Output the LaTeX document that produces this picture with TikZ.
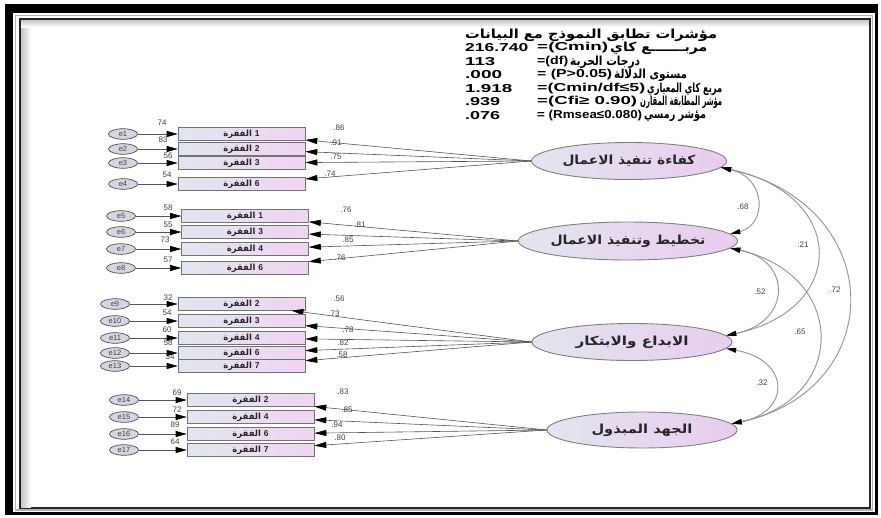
\documentclass[tikz,border=0pt]{standalone}
\usepackage{fontspec}
\usepackage{graphicx}
\setmainfont{Liberation Sans}
\newfontfamily\arabicfont[Script=Arabic]{DejaVu Sans}
\TeXXeTstate=1
\usetikzlibrary{shapes.geometric,arrows.meta}
\newcommand\artxt[1]{{\arabicfont\beginR #1\endR}}
\newcommand\fitw[2]{\resizebox{#1}{\height}{#2}}
\newcommand\itemtxt[1]{\hbox{\artxt{الفقرة}}\hspace{0.35em}\hbox{#1}}
\definecolor{boxL}{HTML}{E1E6EE}
\definecolor{boxR}{HTML}{F0D4F2}
\definecolor{latL}{HTML}{E2E5EE}
\definecolor{latR}{HTML}{E9CCEF}
\definecolor{errF}{HTML}{D6D6E2}
\definecolor{lineG}{HTML}{555555}
\begin{document}
\begin{tikzpicture}[x=1pt,y=-1pt,
  errnode/.style={ellipse, draw=black!70, line width=0.7pt, fill=errF, minimum width=29pt, minimum height=10.5pt, inner sep=0pt, font=\fontsize{7.5}{7.5}\selectfont, text=black!75},
  item/.style={rectangle, draw=black!55, line width=0.6pt, left color=boxL, right color=boxR, minimum width=127pt, minimum height=12.5pt, inner sep=0pt, font=\bfseries\fontsize{8.5}{9}\selectfont, text=black!85},
  latent/.style={ellipse, draw=black!50, line width=0.9pt, left color=latL, right color=latR, minimum width=195pt, minimum height=37pt, inner sep=0pt, font=\bfseries\fontsize{12.5}{12.5}\selectfont, text=black!85},
  etip/.style={draw=lineG, line width=0.6pt, -{Triangle[length=11pt,width=6pt,color=black]}},
  ltip/.style={draw=lineG, line width=0.6pt, -{Triangle[length=12pt,width=6pt,color=black]}},
  ctip/.style={draw=gray!85, line width=0.9pt, {Triangle[length=10pt,width=5pt,color=black]}-{Triangle[length=10pt,width=5pt,color=black]}},
  lab/.style={font=\fontsize{8}{8}\selectfont, text=black!75, inner sep=0.5pt},
  stat/.style={anchor=west, inner sep=0pt, font=\bfseries\fontsize{11.5}{12}\selectfont},
  astat/.style={anchor=west, inner sep=0pt, font=\bfseries\fontsize{12.5}{12}\selectfont}]
\useasboundingbox (0,0) rectangle (881,517);
% frame
\fill[white] (0,0) rectangle (881,517);
\fill[black] (5,4) rectangle (878,515);
\fill[white] (13,13) rectangle (875,512);
\draw[gray!60, line width=1.2pt] (15.5,15.5) rectangle (872.5,510);
\draw[black!85, line width=2pt] (20,19) rectangle (869.5,508);
\shade[left color=gray!45, right color=white] (21,20) rectangle (31,507);
\shade[top color=gray!45, bottom color=white] (21,20) rectangle (868.5,27);
% statistics block
\node[astat] (s0) at (465,35) {\fitw{252pt}{\artxt{مؤشرات تطابق النموذج مع البيانات}}};
\node[stat] (n1) at (465,48) {\fitw{63pt}{216.740}};
\node[stat] (q1) at (537,48) {\fitw{71pt}{=(Cmin)}};
\node[astat] (a1) at (610,48) {\fitw{97pt}{\artxt{مربـــــــع كاي}}};
\node[stat] (n2) at (465,62) {\fitw{30pt}{113}};
\node[stat] (q2) at (537,62) {\fitw{31pt}{=(df)}};
\node[astat] (a2) at (570,62) {\fitw{70pt}{\artxt{درجات الحرية}}};
\node[stat] (n3) at (465,75) {\fitw{37pt}{.000}};
\node[stat] (q3) at (537,75) {\fitw{75pt}{= (P>0.05)}};
\node[astat] (a3) at (614,75) {\fitw{73pt}{\artxt{مستوى الدلالة}}};
\node[stat] (n4) at (465,89) {\fitw{47pt}{1.918}};
\node[stat] (q4) at (537,89) {\fitw{108pt}{=(Cmin/df≤5)}};
\node[astat] (a4) at (647,89) {\fitw{75pt}{\artxt{مربع كاي المعياري}}};
\node[stat] (n5) at (465,102) {\fitw{35pt}{.939}};
\node[stat] (q5) at (537,102) {\fitw{100pt}{=(Cfi≥ 0.90)}};
\node[astat] (a5) at (640,102) {\fitw{82pt}{\artxt{مؤشر المطابقة المقارن}}};
\node[stat] (n6) at (465,116) {\fitw{35pt}{.076}};
\node[stat] (q6) at (537,116) {\fitw{105pt}{= (Rmsea≤0.080)}};
\node[astat] (a6) at (644,116) {\fitw{62pt}{\artxt{مؤشر رمسي}}};
% latent variables
\node[latent] (L1) at (629,161) {\fitw{133pt}{\artxt{كفاءة تنفيذ الاعمال}}};
\node[latent, minimum height=38pt] (L2) at (628,241) {\fitw{155pt}{\artxt{تخطيط وتنفيذ الاعمال}}};
\node[latent, minimum width=200pt] (L3) at (632,342) {\fitw{113pt}{\artxt{الابداع والابتكار}}};
\node[latent, minimum width=190pt, minimum height=36pt] (L4) at (642,430) {\fitw{101pt}{\artxt{الجهد المبذول}}};
% group 1
\foreach \i/\y/\k/\lx/\ly/\lt/\rx/\ry/\rt in {1/134/1/162/123/74/339/128/.86, 2/149/2/163/140/83/336/143/.91, 3/163/3/168/156/56/336/157/.75, 4/184/6/167/175/54/330/174/.74}{
  \node[errnode] (e\i) at (123,\y) {e\i};
  \node[item] (b\i) at (241.5,\y) {\itemtxt{\k}};
  \draw[etip] (e\i) -- (b\i);
  \draw[ltip] (L1.west) -- (b\i);
  \node[lab] (l\i) at (\lx,\ly) {\lt};
  \node[lab] (r\i) at (\rx,\ry) {\rt};
}
% group 2
\foreach \i/\y/\k/\lx/\ly/\lt/\rx/\ry/\rt in {5/216/1/168/208/58/346/210/.76, 6/232/3/168/225/55/360/225/.81, 7/249/4/165/240/73/348/240/.85, 8/268/6/168/260/57/340/258/.76}{
  \node[errnode] (e\i) at (121,\y) {e\i};
  \node[item] (b\i) at (245,\y) {\itemtxt{\k}};
  \draw[etip] (e\i) -- (b\i);
  \draw[ltip] (L2.west) -- (b\i);
  \node[lab] (l\i) at (\lx,\ly) {\lt};
  \node[lab] (r\i) at (\rx,\ry) {\rt};
}
% group 3
\foreach \i/\y/\k/\lx/\ly/\lt/\rx/\ry/\rt in {9/304/2/168/298/32/339/299/.56, 10/321/3/167/313/54/334/314/.73, 11/338/4/167/330/60/348/330/.78, 12/353/6/168/343/58/343/343/.82, 13/366/7/170/357/34/342/355/.58}{
  \node[errnode] (e\i) at (115,\y) {e\i};
  \node[item] (b\i) at (241.5,\y) {\itemtxt{\k}};
  \draw[etip] (e\i) -- (b\i);
  \draw[ltip] (L3.west) -- (b\i);
  \node[lab] (l\i) at (\lx,\ly) {\lt};
  \node[lab] (r\i) at (\rx,\ry) {\rt};
}
% group 4
\foreach \i/\y/\k/\lx/\ly/\lt/\rx/\ry/\rt in {14/400/2/177/393/69/343/392/.83, 15/417/4/177/410/72/347/410/.85, 16/434/6/175/425/89/337/425/.94, 17/450/7/175/442/64/340/438/.80}{
  \node[errnode] (e\i) at (124,\y) {e\i};
  \node[item] (b\i) at (250.5,\y) {\itemtxt{\k}};
  \draw[etip] (e\i) -- (b\i);
  \draw[ltip] (L4.west) -- (b\i);
  \node[lab] (l\i) at (\lx,\ly) {\lt};
  \node[lab] (r\i) at (\rx,\ry) {\rt};
}
% covariances
\draw[ctip] (L1.-4) .. controls (767,178) and (767,225) .. (L2.4);
\draw[ctip] (L1.-4) .. controls (848,195) and (848,310) .. (L3.4);
\draw[ctip] (L1.-4) .. controls (889,205) and (889,390) .. (L4.4);
\draw[ctip] (L2.-4) .. controls (792,260) and (792,322) .. (L3.4);
\draw[ctip] (L2.-4) .. controls (848,275) and (848,400) .. (L4.4);
\draw[ctip] (L3.-4) .. controls (791,360) and (791,412) .. (L4.4);
\node[lab] (c1) at (743,207) {.68};
\node[lab] (c2) at (803,245) {.21};
\node[lab] (c3) at (835,290) {.72};
\node[lab] (c4) at (760,292) {.52};
\node[lab] (c5) at (800,332) {.65};
\node[lab] (c6) at (762,383) {.32};
\end{tikzpicture}
\end{document}
